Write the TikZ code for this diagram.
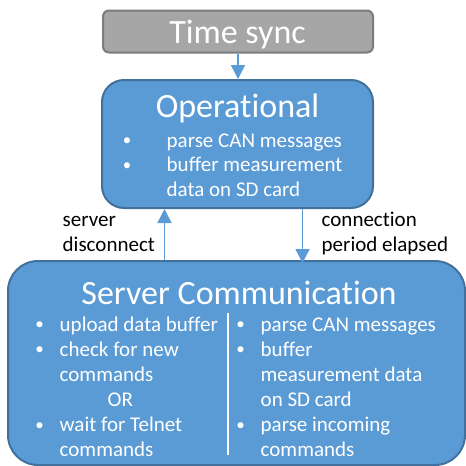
\documentclass[tikz,border=0pt]{standalone}
\usepackage{fontspec}
\setmainfont[Ligatures=NoCommon]{Carlito}
\usetikzlibrary{arrows.meta}
\definecolor{boxblue}{HTML}{5B9BD5}
\definecolor{boxedge}{HTML}{41719C}
\definecolor{tsfill}{HTML}{A6A6A6}
\definecolor{tsedge}{HTML}{7C7C7C}
\begin{document}
\begin{tikzpicture}[x=1pt,y=-1pt,
  tsbox/.style={draw=tsedge, fill=tsfill, line width=2pt, rounded corners=6pt, inner sep=0pt},
  statebox/.style={draw=boxedge, fill=boxblue, line width=2pt, inner sep=0pt},
  titletext/.style={text=white, font=\fontsize{34}{41}\selectfont, anchor=base, inner sep=0pt},
  itemtext/.style={text=white, font=\fontsize{21}{25.5}\selectfont, anchor=base west, inner sep=0pt},
  bullettext/.style={text=white, font=\fontsize{17}{20}\selectfont, anchor=base, inner sep=0pt, yshift=1.5pt},
  labeltext/.style={text=black, font=\fontsize{21}{25.5}\selectfont, anchor=base west, inner sep=0pt},
  flow/.style={draw=boxblue, line width=1.5pt, -{Triangle[length=14pt,width=14pt]}},
  divider/.style={draw=white, line width=1.5pt}
]
\useasboundingbox (0,0) rectangle (466,466);

% boxes
\node[tsbox, minimum width=270pt, minimum height=42pt] (ts) at (238,31.5) {};
\node[statebox, rounded corners=22pt, minimum width=271pt, minimum height=128pt] (op) at (237.5,144) {};
\node[statebox, rounded corners=30pt, minimum width=457pt, minimum height=204pt] (sc) at (236.5,363) {};

% titles
\node[titletext] (tst) at (237.5,43) {Time sync};
\node[titletext] (opt) at (237.5,117) {Operational};
\node[titletext] (sct) at (239,304) {Server Communication};

% Operational items
\node[bullettext] (opb1) at (127,147) {•};
\node[itemtext] (opi1) at (166.5,147) {parse CAN messages};
\node[bullettext] (opb2) at (127,171.5) {•};
\node[itemtext] (opi2) at (166.5,171.5) {buffer measurement};
\node[itemtext] (opi3) at (166.5,196) {data on SD card};

% Server Communication, left column
\node[bullettext] (lb1) at (39.5,331) {•};
\node[itemtext] (li1) at (59.5,331) {upload data buffer};
\node[bullettext] (lb2) at (39.5,356) {•};
\node[itemtext] (li2) at (59.5,356) {check for new};
\node[itemtext] (li3) at (59.5,381) {commands};
\node[itemtext] (li4) at (107.5,406.5) {OR};
\node[bullettext] (lb3) at (39.5,431.5) {•};
\node[itemtext] (li5) at (59.5,431.5) {wait for Telnet};
\node[itemtext] (li6) at (59.5,456.5) {commands};

% Server Communication, right column
\node[bullettext] (rb1) at (240.5,331) {•};
\node[itemtext] (ri1) at (260.5,331) {parse CAN messages};
\node[bullettext] (rb2) at (240.5,356) {•};
\node[itemtext] (ri2) at (260.5,356) {buffer};
\node[itemtext] (ri3) at (260.5,381) {measurement data};
\node[itemtext] (ri4) at (260.5,406) {on SD card};
\node[bullettext] (rb3) at (240.5,431.5) {•};
\node[itemtext] (ri5) at (260.5,431.5) {parse incoming};
\node[itemtext] (ri6) at (260.5,456.5) {commands};

% divider
\coordinate (dtop) at (228,313);
\coordinate (dbot) at (228,455);
\draw[divider] (dtop) -- (dbot);

% transition labels
\node[labeltext] (l1a) at (62.5,226.5) {server};
\node[labeltext] (l1b) at (62.5,251.5) {disconnect};
\node[labeltext] (l2a) at (321.5,226.5) {connection};
\node[labeltext] (l2b) at (321.5,251.5) {period elapsed};

% connectors
\coordinate (upx) at (164.5,0);
\coordinate (downx) at (302.5,0);
\draw[flow] (ts.south) -- (ts.south |- op.north);
\draw[flow] (sc.north -| upx) -- (op.south -| upx);
\draw[flow] (op.south -| downx) -- ([yshift=-3pt]sc.north -| downx);
\end{tikzpicture}
\end{document}
